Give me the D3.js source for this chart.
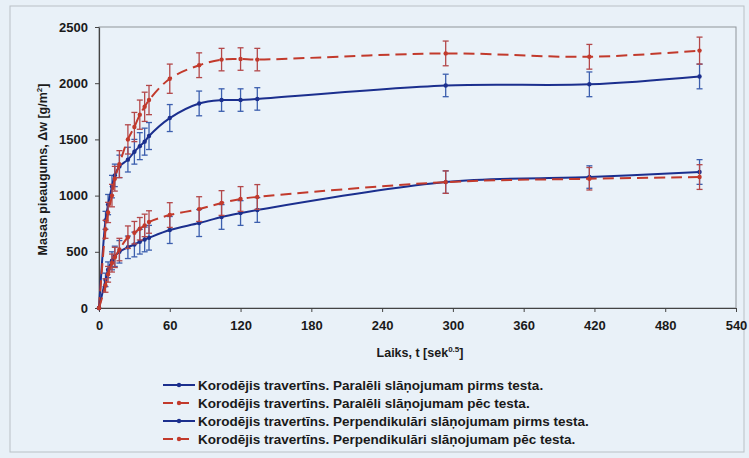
<!DOCTYPE html>
<html>
<head>
<meta charset="utf-8">
<script src="https://cdn.jsdelivr.net/npm/d3@7"></script>
<style>
  body { margin: 0; background: #e8f0f7; }
  text { font-family: 'Liberation Sans', Arial, sans-serif; font-weight: bold; fill: #1a1a1a; }
</style>
</head>
<body>
<svg></svg>
<script>
// data (time in sek^0.5)

const time = [0, 5.5, 7.7, 11, 13.4, 17.3, 24.5, 30, 34.6, 38.7, 42.4, 60, 84.9, 103.9, 120, 134.2, 293.9, 415.7, 509.1];

const parPirms = [0, 780, 920, 1080, 1180, 1260, 1320, 1390, 1440, 1480, 1530, 1690, 1820, 1850, 1850, 1860, 1980, 1990, 2060];
const parPirmsErr = [0, 80, 90, 100, 100, 100, 110, 110, 120, 120, 120, 120, 110, 100, 100, 100, 100, 110, 110];

const parPec = [0, 700, 850, 1000, 1150, 1280, 1500, 1610, 1720, 1790, 1850, 2040, 2160, 2210, 2215, 2210, 2265, 2235, 2290];
const parPecErr = [0, 80, 90, 100, 110, 120, 130, 130, 130, 130, 130, 130, 110, 100, 100, 100, 110, 110, 120];

const perpPirms = [0, 250, 340, 420, 460, 500, 540, 565, 590, 610, 625, 694, 756, 810, 845, 872, 1120, 1165, 1210];
const perpPirmsErr = [0, 60, 70, 80, 90, 100, 100, 110, 110, 110, 110, 120, 120, 110, 110, 110, 100, 100, 110];

const perpPec = [0, 200, 300, 400, 450, 520, 630, 670, 705, 735, 765, 827, 880, 934, 970, 988, 1120, 1150, 1165];
const perpPecErr = [0, 60, 70, 80, 90, 100, 100, 100, 100, 100, 100, 110, 110, 110, 110, 110, 100, 100, 110];

const xTicks = [0, 60, 120, 180, 240, 300, 360, 420, 480, 540];
const yTicks = [0, 500, 1000, 1500, 2000, 2500];

const series = [
  { label: 'Korodējis travertīns. Paralēli slāņojumam pirms testa.', values: parPirms, err: parPirmsErr,
    color: '#1b2f8e', errColor: '#3c5fae', dash: null },
  { label: 'Korodējis travertīns. Paralēli slāņojumam pēc testa.', values: parPec, err: parPecErr,
    color: '#c23a2c', errColor: '#b3484a', dash: '11,6' },
  { label: 'Korodējis travertīns. Perpendikulāri slāņojumam pirms testa.', values: perpPirms, err: perpPirmsErr,
    color: '#1b2f8e', errColor: '#3c5fae', dash: null },
  { label: 'Korodējis travertīns. Perpendikulāri slāņojumam pēc testa.', values: perpPec, err: perpPecErr,
    color: '#c23a2c', errColor: '#b3484a', dash: '11,6' }
];


// root svg

const W = 749, H = 458;
const plot = { left: 99, right: 736, top: 27, bottom: 308 };

const svg = d3.select('svg')
  .attr('width', W)
  .attr('height', H);

svg.append('rect')
  .attr('width', W).attr('height', H)
  .style('fill', '#e8f0f7');

svg.append('rect')
  .attr('x', 10).attr('y', 6)
  .attr('width', 734).attr('height', 446)
  .style('fill', '#e9f1f8')
  .style('stroke', '#b9c0c6');

// plot area frame
svg.append('rect')
  .attr('x', plot.left).attr('y', plot.top)
  .attr('width', plot.right - plot.left)
  .attr('height', plot.bottom - plot.top)
  .style('fill', '#eaf2f9')
  .style('stroke', '#8f959a');


// scales & axes

const x = d3.scaleLinear().domain([0, 540]).range([plot.left, plot.right]);
const y = d3.scaleLinear().domain([0, 2500]).range([plot.bottom, plot.top]);

const xAxisG = svg.append('g')
  .attr('transform', `translate(0,${plot.bottom})`)
  .call(d3.axisBottom(x).tickValues(xTicks).tickFormat(d3.format('d'))
    .tickSize(4).tickSizeOuter(0).tickPadding(9));

const yAxisG = svg.append('g')
  .attr('transform', `translate(${plot.left},0)`)
  .call(d3.axisLeft(y).tickValues(yTicks).tickFormat(d3.format('d'))
    .tickSize(4).tickSizeOuter(0).tickPadding(7));

[xAxisG, yAxisG].forEach(g => {
  g.select('.domain').style('stroke', '#444').style('stroke-width', 1.2);
  g.selectAll('.tick line').style('stroke', '#444');
  g.selectAll('.tick text')
    .style('font-family', "'Liberation Sans', Arial, sans-serif")
    .style('font-weight', 'bold')
    .style('font-size', '13px')
    .style('fill', '#1a1a1a');
});


// axis titles

svg.append('text')
  .attr('transform', `translate(47,${(plot.top + plot.bottom) / 2 + 2}) rotate(-90)`)
  .attr('text-anchor', 'middle')
  .style('font-size', '12.5px')
  .html('Masas pieaugums, Δw [g/m<tspan dy="-5" font-size="8px">2</tspan><tspan dy="5">]</tspan>');

svg.append('text')
  .attr('x', 420).attr('y', 357)
  .attr('text-anchor', 'middle')
  .style('font-size', '12.5px')
  .html('Laiks, t [sek<tspan dy="-5" font-size="8px">0.5</tspan><tspan dy="5">]</tspan>');


// series

const line = d3.line()
  .x(d => x(d.t))
  .y(d => y(d.v))
  .curve(d3.curveCatmullRom.alpha(0.5));

series.forEach(s => {
  const pts = time.map((t, i) => ({ t, v: s.values[i], e: s.err[i] }));
  const g = svg.append('g');

  // error bars
  const eb = g.selectAll('g.err').data(pts.filter(d => d.e > 0)).enter().append('g')
    .style('stroke', s.errColor).style('stroke-width', 1.3);
  eb.append('line')
    .attr('x1', d => x(d.t)).attr('x2', d => x(d.t))
    .attr('y1', d => y(d.v - d.e)).attr('y2', d => y(d.v + d.e));
  eb.append('line')
    .attr('x1', d => x(d.t) - 3).attr('x2', d => x(d.t) + 3)
    .attr('y1', d => y(d.v - d.e)).attr('y2', d => y(d.v - d.e));
  eb.append('line')
    .attr('x1', d => x(d.t) - 3).attr('x2', d => x(d.t) + 3)
    .attr('y1', d => y(d.v + d.e)).attr('y2', d => y(d.v + d.e));

  g.append('path')
    .attr('d', line(pts))
    .style('fill', 'none')
    .style('stroke', s.color)
    .style('stroke-width', 2)
    .style('stroke-dasharray', s.dash);

  g.selectAll('circle').data(pts).enter().append('circle')
    .attr('cx', d => x(d.t)).attr('cy', d => y(d.v))
    .attr('r', 2.2)
    .style('fill', s.color);
});


// legend

const legendG = svg.append('g').attr('transform', 'translate(163,385)');

legendG.selectAll('g')
  .data(series)
  .enter()
    .append('g')
    .each(function(d, i) {
      const g = d3.select(this).attr('transform', `translate(0,${i * 18})`);
      g.append('line')
        .attr('x1', 0).attr('x2', 32).attr('y1', 0).attr('y2', 0)
        .style('stroke', d.color).style('stroke-width', 2)
        .style('stroke-dasharray', d.dash ? '10,6' : null);
      g.append('circle')
        .attr('cx', 16).attr('cy', 0).attr('r', 2.2)
        .style('fill', d.color);
      g.append('text')
        .attr('x', 35).attr('y', 5)
        .style('font-size', '13.5px')
        .text(d.label);
    });
</script>
</body>
</html>
